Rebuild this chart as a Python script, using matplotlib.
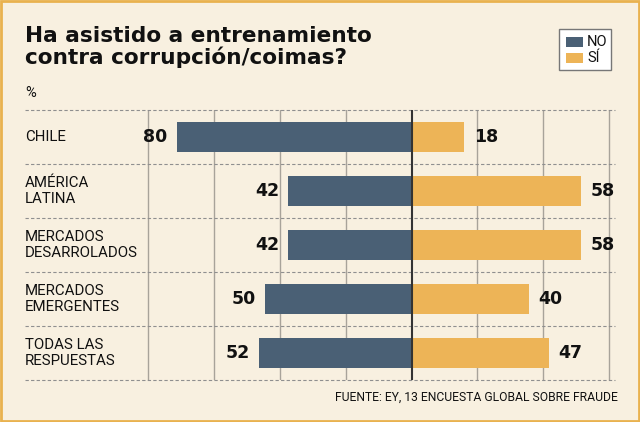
import matplotlib.pyplot as plt
from matplotlib.patches import Rectangle

categorias = ['CHILE', 'AMÉRICA\nLATINA', 'MERCADOS\nDESARROLADOS', 'MERCADOS\nEMERGENTES', 'TODAS LAS\nRESPUESTAS']
no = [80, 42, 42, 50, 52]
si = [18, 58, 58, 40, 47]

fondo = '#F8F0E0'
azul = '#4A6075'
naranja = '#EDB457'
fuente = ['Roboto', 'DejaVu Sans']

W, H = 640, 422
fig = plt.figure(figsize=(6.4, 4.22), dpi=100, facecolor=fondo)

# marco naranja
fig.patches.append(Rectangle((0.0015, 0.002), 0.997, 0.996, transform=fig.transFigure,
                             fill=False, edgecolor='#E9B24F', linewidth=2))

# ejes en coordenadas de pixel
x0, x1, ytop, ybot = 25, 615, 110, 380
centro = 411.5
escala = 2.93
ax = fig.add_axes([x0 / W, 1 - ybot / H, (x1 - x0) / W, (ybot - ytop) / H])
ax.set_facecolor('none')
ax.set_xlim((x0 - centro) / escala, (x1 - centro) / escala)
ax.set_ylim(4.5, -0.5)
for s in ax.spines.values():
    s.set_visible(False)
ax.set_xticks([])
ax.set_yticks([])

for g in [-90, -67.5, -45, -22.5, 22.5, 45, 67.5]:
    ax.axvline(g, color='#A8A39A', linewidth=1, zorder=1)
for k in range(6):
    ax.axhline(k - 0.5, color='#8F8F8F', linewidth=0.8, linestyle=(0, (3, 2)),
               zorder=1, clip_on=False)

y = range(len(categorias))
ax.barh(y, [-v for v in no], height=0.56, color=azul, zorder=2)
ax.barh(y, si, height=0.56, color=naranja, zorder=2)
ax.axvline(0, color='#333333', linewidth=1.5, zorder=3)

off = 3.2
for i, (n, s) in enumerate(zip(no, si)):
    ax.text(-n - off, i, str(n), ha='right', va='center', fontsize=12.5,
            fontweight='bold', color='#111111')
    ax.text(s + off, i, str(s), ha='left', va='center', fontsize=12.5,
            fontweight='bold', color='#111111')
    ax.text(0, i, categorias[i], transform=ax.get_yaxis_transform(), ha='left',
            va='center', fontsize=10.8, color='#111111', linespacing=1.1,
            family=fuente)

fig.text(25 / W, 1 - 47 / H, 'Ha asistido a entrenamiento\ncontra corrupción/coimas?',
         ha='left', va='center', fontsize=15.6, fontweight='bold', color='#111111',
         linespacing=1.05)
fig.text(25 / W, 1 - 93 / H, '%', ha='left', va='center', fontsize=10.5, color='#111111',
         family=fuente)
fig.text(618 / W, 1 - 397 / H, 'FUENTE: EY, 13 ENCUESTA GLOBAL SOBRE FRAUDE',
         ha='right', va='center', fontsize=8.7, color='#111111', family=fuente)

# leyenda
fig.patches.append(Rectangle((559 / W, 1 - 70 / H), 52 / W, 41 / H, transform=fig.transFigure,
                             facecolor='white', edgecolor='#777777', linewidth=1))
fig.patches.append(Rectangle((566 / W, 1 - 47 / H), 17 / W, 10 / H, transform=fig.transFigure,
                             facecolor=azul, edgecolor='none'))
fig.patches.append(Rectangle((566 / W, 1 - 63 / H), 17 / W, 10 / H, transform=fig.transFigure,
                             facecolor=naranja, edgecolor='none'))
fig.text(587 / W, 1 - 42 / H, 'NO', ha='left', va='center', fontsize=10.5, color='#111111',
         family=fuente)
fig.text(587 / W, 1 - 58 / H, 'SÍ', ha='left', va='center', fontsize=10.5, color='#111111',
         family=fuente)

fig.savefig('out.png', dpi=100, facecolor=fondo)
